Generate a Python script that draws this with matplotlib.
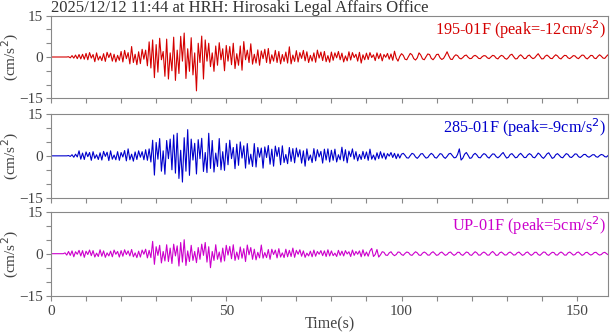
import numpy as np
import matplotlib
matplotlib.use("Agg")
import matplotlib.pyplot as plt
from matplotlib.ticker import MultipleLocator

plt.rcParams['font.family'] = ['Liberation Serif', 'DejaVu Serif']

title = "2025/12/12 11:44 at HRH: Hirosaki Legal Affairs Office"
channels = ["195-01F", "285-01F", "UP-01F"]
peaks = [-12, -9, 5]
colors = ["#d40000", "#0000cc", "#cc00cc"]

dt = 0.5  # seconds between read-off samples

# acceleration (cm/s^2), every 0.5 s, 10 s per row
ew = [
    0, 0, 0, 0, 0, 0, 0, 0, 0, 0, 0.1, -0.3, 0.5, -0.4, 0.7, -0.6, 0.9, -0.7, 1.0, -0.8,
    1.3, -1.0, 1.6, -0.4, 0.9, -1.7, 1.5, -1.1, 0.3, -1.3, 1.2, -1.6, 1.7, -0.2, 1.4, -1.5, 1.0, -1.8, 0.6, -1.2,
    2.0, -1.8, 2.4, -0.6, 1.6, -2.5, 3.8, -2.0, 1.0, -2.8, 1.9, -2.4, 2.8, -0.8, 2.5, -3.2, 5.5, -4.0, 6.2, -7.5,
    4.5, -5.5, 6.8, -1.0, 2.0, -7.0, 6.5, -8.0, 1.5, -5.0, 7.2, -8.5, 2.5, -6.0, 7.5, -1.5, 8.7, -7.8, 3.0, -5.2,
    7.0, -6.5, 1.5, -12.3, 5.0, -2.0, 7.6, -8.0, 6.2, -1.5, 5.0, -3.5, 1.5, -5.2, 4.0, -3.0, 5.2, -1.0, 3.0, -5.0,
    4.2, -1.5, 3.8, -2.8, 5.0, -4.2, 1.2, -3.0, 4.0, -4.8, 5.6, -1.0, 2.5, -2.0, 4.8, -2.6, 1.0, -2.2, 2.6, -3.0,
    2.2, -0.6, 2.8, -2.0, 3.1, -2.4, 0.8, -1.5, 2.4, -2.0, 2.0, -2.5, 0.9, -1.6, 1.8, -2.2, 3.7, -2.5, 0.7, -1.6,
    2.3, -1.8, 1.6, -0.5, 2.4, -1.4, 1.9, -2.0, 0.6, -1.5, 1.5, -1.9, 2.5, -0.4, 1.8, -1.3, 2.0, -1.7, 0.5, -1.9,
    1.8, -1.2, 1.5, -0.3, 2.0, -1.0, 1.4, -1.8, 0.4, -1.4, 1.9, -1.1, 1.6, -0.2, 1.0, -1.5, 1.7, -2.2, 0.8, -1.0,
    1.4, -0.9, 1.6, -0.2, 0.8, -1.3, 1.5, -0.6, 1.2, -1.4, 0.9, -0.1, 1.3, -0.8, 1.1, -1.2, 2.1, -0.4, -1.5, 0.2,
    1.2, 0.6, -0.8, -1.0, 0.2, 1.3, 0.8, -0.6, -1.1, -0.3, 1.5, 0.7, -0.7, -1.0, 0.1, 1.1, 0.9, -0.5, -1.0, -0.2,
    0.9, 1.0, -0.3, -0.9, -0.5, 0.6, 1.9, 0.4, -0.8, -0.9, 0.2, 0.8, 0.5, -0.4, -0.7, -0.2, 0.5, 0.7, -0.1, -0.6,
    -0.5, 0.3, 0.6, 0.2, -0.5, -0.6, 0.1, 0.5, 0.4, -0.3, -0.6, 0.0, 0.6, 0.4, -0.4, -0.7, 0.1, 0.6, 0.3, -0.5,
    -0.8, -0.2, 0.7, 1.0, 0.1, -0.7, -0.6, 0.3, 0.8, 0.2, -0.6, -0.5, 0.4, 0.7, -0.1, -0.6, -0.3, 0.5, 1.2, 0.2,
    -0.7, -0.6, 0.3, 0.7, 0.2, -0.5, -0.6, 0.2, 0.8, 0.4, -0.4, -0.7, 0.0, 0.6, 0.5, -0.3, -0.6, -0.1, 0.5, 0.4,
    -0.3, -0.6, 0.1, 0.7, 0.6, -0.3, -0.7, -0.1, 0.6, 0.5, -0.4, -0.6, 0.2, 0.8, 0.3, -0.4, -0.5, 0.3, 0.9, 0.2,
]

ns = [
    0, 0, 0, 0, 0, 0, 0, 0, 0, 0, 0.1, -0.2, 0.4, -0.5, 0.6, -0.4, 1.8, -1.2, 1.0, -1.3,
    1.4, -0.3, 1.2, -1.6, 1.5, -0.9, 0.4, -1.3, 1.1, -1.5, 1.6, -0.2, 1.3, -1.7, 1.8, -1.2, 0.3, -1.4, 1.5, -1.6,
    1.2, -0.4, 1.9, -1.8, 2.5, -1.4, 0.6, -1.9, 1.4, -1.3, 1.8, -0.5, 1.5, -1.4, 2.2, -1.6, 2.5, -2.2, 5.6, -6.9,
    4.8, -1.2, 6.2, -5.5, 1.8, -6.6, 5.5, -1.0, 6.0, -5.0, 7.5, -6.2, 8.1, -8.1, 2.0, -9.4, 6.5, -5.5, 9.4, -7.0,
    6.0, -1.5, 4.5, -6.5, 5.8, -1.0, 6.3, -5.6, 1.2, -6.0, 8.1, -4.5, 5.5, -5.8, 1.0, -3.8, 6.2, -5.0, 1.5, -5.2,
    4.5, -3.2, 5.6, -1.0, 3.0, -4.6, 4.2, -3.4, 5.0, -0.8, 3.6, -4.4, 4.4, -3.0, 0.6, -3.8, 4.4, -4.0, 3.0, -0.5,
    2.8, -4.4, 3.2, -0.6, 3.7, -3.0, 2.4, -3.7, 3.5, -0.2, 3.0, -3.2, 3.6, -2.4, 0.5, -2.8, 3.0, -2.0, 2.6, -2.5,
    2.8, -0.4, 2.2, -2.6, 1.8, -3.7, 2.5, -1.6, 0.3, -2.4, 2.6, -1.8, 2.2, -0.4, 1.6, -2.6, 2.4, -1.5, 2.5, -2.2,
    2.0, -1.6, 2.4, -2.2, 0.4, -1.4, 3.1, -1.8, 2.2, -2.5, 1.7, -0.3, 2.5, -1.2, 1.5, -1.8, 0.5, -1.3, 1.6, -1.0,
    1.4, -1.6, 2.4, -1.2, 0.3, -1.5, 1.1, -1.0, 1.5, -0.8, 1.0, -1.2, 0.8, -0.1, 1.2, -0.6, 0.9, -1.0, 0.7, -0.8,
    0.6, 0.9, 0.2, -0.7, -0.8, 0.1, 0.9, 0.6, -0.4, -0.9, -0.2, 0.7, 0.8, -0.1, -0.8, -0.6, 0.3, 0.9, 0.4, -0.6,
    -0.8, 0.0, 0.8, 0.6, -0.4, -0.9, -0.2, 0.7, 0.9, 0.1, -0.7, -0.6, 0.5, 2.5, -1.5, -0.8, 0.6, 1.2, 0.2, -0.9,
    -0.7, 0.4, 0.9, 0.3, -0.6, -0.7, 0.2, 0.8, 0.5, -0.4, -0.8, 0.0, 0.7, 0.6, -0.3, -0.7, -0.2, 0.6, 1.2, 0.1,
    -0.8, -0.5, 0.5, 0.8, 0.1, -0.7, -0.5, 0.4, 0.9, 0.2, -0.6, -0.6, 0.3, 0.8, 0.4, -0.5, -0.7, 0.1, 1.0, 0.5,
    -0.4, -0.9, -0.2, 0.7, 1.1, 0.1, -0.9, -0.6, 0.4, 0.8, 0.2, -0.5, -0.7, 0.1, 0.8, 0.5, -0.4, -0.6, 0.0, 0.7,
    0.6, -0.3, -0.6, -0.1, 0.5, 0.5, -0.2, -0.5, -0.1, 0.4, 0.4, -0.3, -0.5, 0.1, 0.5, 0.3, -0.3, -0.4, 0.2, 0.4,
]

ud = [
    0, 0, 0, 0, 0, 0, 0, 0, 0.3, -0.5, 0.8, -0.6, 1.0, -1.1, 0.7, -0.2, 1.2, -0.8, 1.1, -1.3,
    0.9, -0.3, 1.3, -0.7, 1.1, -1.2, 0.2, -1.0, 1.4, -0.9, 1.0, -1.3, 0.3, -0.8, 0.9, -1.1, 1.3, -0.2, 0.8, -1.2,
    1.1, -0.9, 1.4, -0.3, 1.0, -0.8, 1.5, -1.1, 0.3, -1.4, 0.9, -1.2, 1.3, -0.2, 1.6, -1.5, 1.2, -1.4, 4.4, -3.8,
    2.5, -0.6, 3.0, -3.3, 0.8, -2.6, 3.2, -2.8, 2.0, -3.5, 3.4, -0.8, 2.8, -4.4, 4.0, -3.0, 5.0, -4.2, 1.0, -2.8,
    3.0, -2.4, 0.8, -3.2, 2.2, -2.0, 3.4, -0.6, 4.0, -3.0, 2.5, -5.0, 0.8, -2.4, 3.2, -2.0, 0.6, -3.0, 2.0, -2.6,
    3.0, -0.5, 2.6, -1.8, 3.2, -2.4, 0.6, -2.0, 2.4, -1.6, 1.8, -2.8, 3.1, -0.4, 2.2, -2.0, 1.6, -2.2, 0.5, -1.5,
    3.1, -1.6, 0.4, -1.4, 1.5, -2.0, 1.6, -0.3, 1.3, -1.5, 1.8, -1.2, 0.3, -1.4, 1.6, -1.1, 1.2, -1.0, 2.0, -1.3,
    1.2, -0.2, 1.4, -0.9, 1.0, -1.3, 0.2, -0.8, 0.9, -1.1, 1.3, -0.9, 0.8, -0.2, 1.1, -0.7, 1.0, -1.0, 1.4, -0.8,
    1.0, -0.7, 0.2, -1.0, 1.2, -0.6, 0.9, -0.8, 1.1, -0.1, 0.7, -1.0, 1.3, -0.6, 0.8, -0.2, 1.0, -1.1, 1.4, -0.8,
    0.6, -0.9, 1.0, 1.9, -1.0, -0.3, 1.5, -1.2, -0.4, 0.7, 0.5, -0.5, -0.6, 0.3, 0.7, -0.2, -0.7, -0.3, 0.6, 0.5,
    -0.3, -0.6, 0.1, 0.6, 0.4, -0.4, -0.6, 0.1, 0.7, 0.3, -0.5, -0.6, 0.2, 0.6, 0.2, -0.5, -0.5, 0.3, 0.7, 0.1,
    -0.6, -0.4, 0.3, 0.6, 0.0, -0.6, -0.3, 0.4, 0.6, -0.1, -0.6, -0.2, 0.5, 0.5, -0.3, -0.6, 0.0, 0.6, 0.4, -0.4,
    -0.6, 0.1, 0.7, 0.3, -0.5, -0.5, 0.2, 0.6, 0.2, -0.5, -0.5, 0.3, 0.8, 0.2, -0.6, -0.5, 0.3, 0.6, 0.1, -0.5,
    -0.4, 0.3, 0.6, 0.1, -0.5, -0.4, 0.3, 0.6, 0.0, -0.6, -0.3, 0.4, 0.6, -0.1, -0.6, -0.2, 0.5, 0.5, -0.3, -0.6,
    0.0, 0.6, 0.5, -0.3, -0.6, 0.0, 0.5, 0.4, -0.4, -0.5, 0.2, 0.6, 0.2, -0.5, -0.5, 0.3, 0.6, 0.1, -0.5, -0.3,
    0.4, 0.6, 0.0, -0.6, -0.3, 0.4, 0.5, -0.1, -0.5, -0.2, 0.4, 0.5, -0.1, -0.5, -0.3, 0.3, 0.5, 0.0, -0.4, -0.2,
]

traces = [ew, ns, ud]

fig = plt.figure(figsize=(6.13, 3.34), dpi=100)
txt = '#444444'
spine = '#888888'

# axes boxes in pixels (top, bottom) measured on the reference
boxes = [(15.7, 98.3), (114.0, 197.7), (211.7, 295.7)]
W, H = 613, 334
x0, x1 = 51, 608.3

for i, (top, bot) in enumerate(boxes):
    ax = fig.add_axes([x0 / W, 1 - bot / H, (x1 - x0) / W, (bot - top) / H])
    acc = np.array(traces[i])
    t = np.arange(len(acc)) * dt
    ax.plot(t, acc, color=colors[i], lw=0.8)
    ax.set_xlim(0, 159)
    ax.set_ylim(-15, 15)
    ax.set_yticks([-15, 0, 15])
    ax.yaxis.set_minor_locator(MultipleLocator(5))
    ax.xaxis.set_major_locator(MultipleLocator(50))
    ax.xaxis.set_minor_locator(MultipleLocator(10))
    ax.tick_params(which='both', direction='out', length=3.5, width=0.8,
                   color=spine, labelcolor=txt, labelsize=11, pad=2)
    ax.tick_params(axis='x', pad=3)
    for s in ax.spines.values():
        s.set_color(spine)
        s.set_linewidth(0.8)
    ax.set_ylabel('(cm/s$^2$)', color=txt, fontsize=11)
    ax.yaxis.set_label_coords(-0.054, 0.5)
    ax.text(0.996, 0.97, f"{channels[i]} (peak={peaks[i]}cm/s$^2$)",
            transform=ax.transAxes, ha='right', va='top',
            color=colors[i], fontsize=11.7)
    if i < 2:
        ax.tick_params(axis='x', labelbottom=False)
    else:
        ax.set_xlabel('Time(s)', color=txt, fontsize=11.5, labelpad=-1)
    if i == 0:
        ax.set_title(title, loc='left', color='#333333', fontsize=12, pad=0.5)

fig.savefig('out.png', dpi=100)
